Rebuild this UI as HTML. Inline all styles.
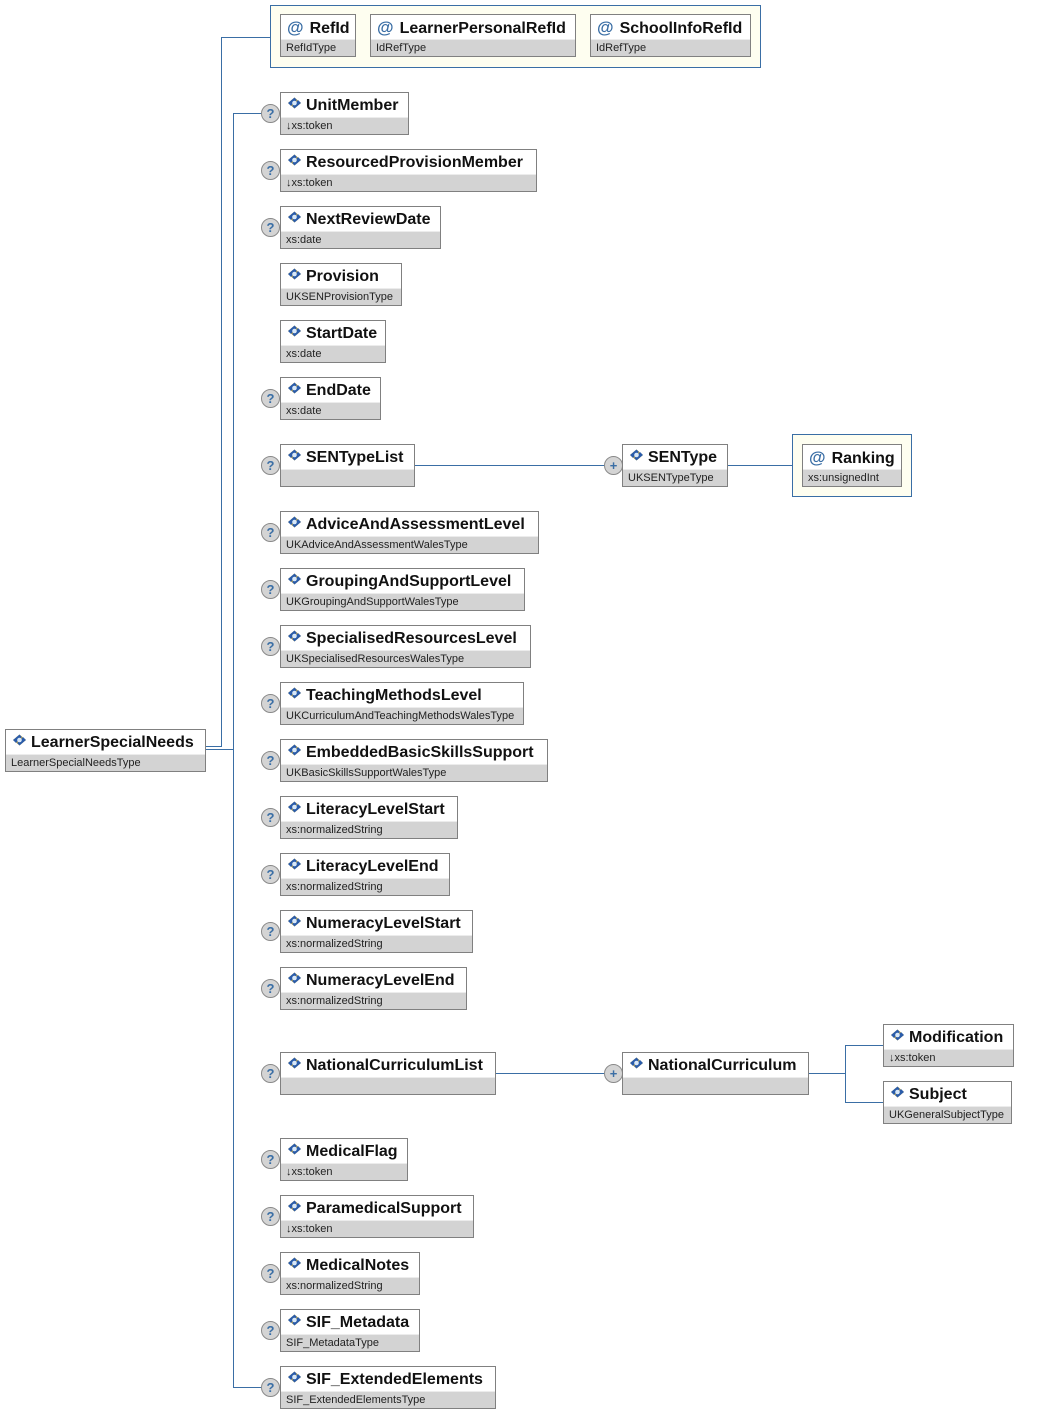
<!DOCTYPE html>
<html><head><meta charset="utf-8"><style>
body{margin:0;width:1054px;height:1413px;background:#fff;position:relative;font-family:"Liberation Sans",Arial,sans-serif;overflow:hidden}
.b{position:absolute;height:41px;border:1px solid #808080;background:#d3d3d3;box-sizing:content-box;overflow:hidden}
.b .n{height:24px;background:#fff;font-weight:bold;font-size:16px;line-height:25px;padding-left:6px;white-space:nowrap;color:#111;border-bottom:1px solid #ececec}
.b .t{font-size:11px;line-height:16px;padding-left:5px;white-space:nowrap;color:#222}
.ic{display:inline-block;width:15px;height:12px;vertical-align:1px;margin-right:4px}
.at{color:#3a6ea5;font-size:17px;margin-right:6px}
.q,.p{position:absolute;width:17px;height:17px;border-radius:50%;background:#d4d4d4;border:1px solid #8a8a8a;color:#3a6ea5;font-weight:bold;font-size:13px;line-height:17px;text-align:center}
.grp{position:absolute;border:1px solid #3a6ea5;background:#fefef0}
</style></head><body>
<svg width="1054" height="1413" style="position:absolute;left:0;top:0">
<defs>
<g id="ico"><path d="M1 6L7.5 0.5L14 6L7.5 11.5Z" fill="#f2c12e"/><path d="M1 6L7.5 0.5L10 3L4 9Z" fill="#2a5caa"/><path d="M14 6L7.5 11.5L5 9L11 3Z" fill="#2a5caa"/><circle cx="7.5" cy="6" r="2.3" fill="#d8e8f8"/></g></defs>
<g stroke="#3a6ea5" stroke-width="1" fill="none" shape-rendering="crispEdges">
<path d="M206 746.5H221.5V37.5H270"/>
<path d="M206 749.5H233.5"/>
<path d="M233.5 113.5V1387.5"/>
<path d="M233 113.5H262M233 1387.5H262"/>
<path d="M415 465.5H605M728 465.5H792"/>
<path d="M496 1073.5H605M809 1073.5H845.5V1045.5H883M845.5 1073.5V1102.5H883"/>
</g></svg>
<div class="grp" style="left:270px;top:5px;width:489px;height:61px"></div>
<div class="grp" style="left:792px;top:434px;width:118px;height:61px"></div>

<div class="b" style="left:280px;top:14px;width:74px"><div class="n"><span class="at">@</span>RefId</div><div class="t">RefIdType</div></div>
<div class="b" style="left:370px;top:14px;width:204px"><div class="n"><span class="at">@</span>LearnerPersonalRefId</div><div class="t">IdRefType</div></div>
<div class="b" style="left:590px;top:14px;width:159px"><div class="n"><span class="at">@</span>SchoolInfoRefId</div><div class="t">IdRefType</div></div>

<div class="b" style="left:5px;top:729px;width:199px"><div class="n"><svg class="ic" viewBox="0 0 15 12"><use href="#ico"/></svg>LearnerSpecialNeeds</div><div class="t">LearnerSpecialNeedsType</div></div>

<div class="q" style="left:261px;top:104px">?</div><div class="b" style="left:280px;top:92px;width:127px"><div class="n"><svg class="ic" viewBox="0 0 15 12"><use href="#ico"/></svg>UnitMember</div><div class="t">↓xs:token</div></div>
<div class="q" style="left:261px;top:161px">?</div><div class="b" style="left:280px;top:149px;width:255px"><div class="n"><svg class="ic" viewBox="0 0 15 12"><use href="#ico"/></svg>ResourcedProvisionMember</div><div class="t">↓xs:token</div></div>
<div class="q" style="left:261px;top:218px">?</div><div class="b" style="left:280px;top:206px;width:159px"><div class="n"><svg class="ic" viewBox="0 0 15 12"><use href="#ico"/></svg>NextReviewDate</div><div class="t">xs:date</div></div>
<div class="b" style="left:280px;top:263px;width:120px"><div class="n"><svg class="ic" viewBox="0 0 15 12"><use href="#ico"/></svg>Provision</div><div class="t">UKSENProvisionType</div></div>
<div class="b" style="left:280px;top:320px;width:104px"><div class="n"><svg class="ic" viewBox="0 0 15 12"><use href="#ico"/></svg>StartDate</div><div class="t">xs:date</div></div>
<div class="q" style="left:261px;top:389px">?</div><div class="b" style="left:280px;top:377px;width:99px"><div class="n"><svg class="ic" viewBox="0 0 15 12"><use href="#ico"/></svg>EndDate</div><div class="t">xs:date</div></div>
<div class="q" style="left:261px;top:456px">?</div><div class="b" style="left:280px;top:444px;width:133px"><div class="n"><svg class="ic" viewBox="0 0 15 12"><use href="#ico"/></svg>SENTypeList</div><div class="t"></div></div>
<div class="p" style="left:604px;top:456px">+</div><div class="b" style="left:622px;top:444px;width:104px"><div class="n"><svg class="ic" viewBox="0 0 15 12"><use href="#ico"/></svg>SENType</div><div class="t">UKSENTypeType</div></div>
<div class="b" style="left:802px;top:444px;width:98px"><div class="n"><span class="at">@</span>Ranking</div><div class="t">xs:unsignedInt</div></div>
<div class="q" style="left:261px;top:523px">?</div><div class="b" style="left:280px;top:511px;width:257px"><div class="n"><svg class="ic" viewBox="0 0 15 12"><use href="#ico"/></svg>AdviceAndAssessmentLevel</div><div class="t">UKAdviceAndAssessmentWalesType</div></div>
<div class="q" style="left:261px;top:580px">?</div><div class="b" style="left:280px;top:568px;width:243px"><div class="n"><svg class="ic" viewBox="0 0 15 12"><use href="#ico"/></svg>GroupingAndSupportLevel</div><div class="t">UKGroupingAndSupportWalesType</div></div>
<div class="q" style="left:261px;top:637px">?</div><div class="b" style="left:280px;top:625px;width:249px"><div class="n"><svg class="ic" viewBox="0 0 15 12"><use href="#ico"/></svg>SpecialisedResourcesLevel</div><div class="t">UKSpecialisedResourcesWalesType</div></div>
<div class="q" style="left:261px;top:694px">?</div><div class="b" style="left:280px;top:682px;width:242px"><div class="n"><svg class="ic" viewBox="0 0 15 12"><use href="#ico"/></svg>TeachingMethodsLevel</div><div class="t">UKCurriculumAndTeachingMethodsWalesType</div></div>
<div class="q" style="left:261px;top:751px">?</div><div class="b" style="left:280px;top:739px;width:266px"><div class="n"><svg class="ic" viewBox="0 0 15 12"><use href="#ico"/></svg>EmbeddedBasicSkillsSupport</div><div class="t">UKBasicSkillsSupportWalesType</div></div>
<div class="q" style="left:261px;top:808px">?</div><div class="b" style="left:280px;top:796px;width:176px"><div class="n"><svg class="ic" viewBox="0 0 15 12"><use href="#ico"/></svg>LiteracyLevelStart</div><div class="t">xs:normalizedString</div></div>
<div class="q" style="left:261px;top:865px">?</div><div class="b" style="left:280px;top:853px;width:168px"><div class="n"><svg class="ic" viewBox="0 0 15 12"><use href="#ico"/></svg>LiteracyLevelEnd</div><div class="t">xs:normalizedString</div></div>
<div class="q" style="left:261px;top:922px">?</div><div class="b" style="left:280px;top:910px;width:191px"><div class="n"><svg class="ic" viewBox="0 0 15 12"><use href="#ico"/></svg>NumeracyLevelStart</div><div class="t">xs:normalizedString</div></div>
<div class="q" style="left:261px;top:979px">?</div><div class="b" style="left:280px;top:967px;width:185px"><div class="n"><svg class="ic" viewBox="0 0 15 12"><use href="#ico"/></svg>NumeracyLevelEnd</div><div class="t">xs:normalizedString</div></div>
<div class="q" style="left:261px;top:1064px">?</div><div class="b" style="left:280px;top:1052px;width:214px"><div class="n"><svg class="ic" viewBox="0 0 15 12"><use href="#ico"/></svg>NationalCurriculumList</div><div class="t"></div></div>
<div class="p" style="left:604px;top:1064px">+</div><div class="b" style="left:622px;top:1052px;width:185px"><div class="n"><svg class="ic" viewBox="0 0 15 12"><use href="#ico"/></svg>NationalCurriculum</div><div class="t"></div></div>
<div class="b" style="left:883px;top:1024px;width:129px"><div class="n"><svg class="ic" viewBox="0 0 15 12"><use href="#ico"/></svg>Modification</div><div class="t">↓xs:token</div></div>
<div class="b" style="left:883px;top:1081px;width:127px"><div class="n"><svg class="ic" viewBox="0 0 15 12"><use href="#ico"/></svg>Subject</div><div class="t">UKGeneralSubjectType</div></div>
<div class="q" style="left:261px;top:1150px">?</div><div class="b" style="left:280px;top:1138px;width:126px"><div class="n"><svg class="ic" viewBox="0 0 15 12"><use href="#ico"/></svg>MedicalFlag</div><div class="t">↓xs:token</div></div>
<div class="q" style="left:261px;top:1207px">?</div><div class="b" style="left:280px;top:1195px;width:192px"><div class="n"><svg class="ic" viewBox="0 0 15 12"><use href="#ico"/></svg>ParamedicalSupport</div><div class="t">↓xs:token</div></div>
<div class="q" style="left:261px;top:1264px">?</div><div class="b" style="left:280px;top:1252px;width:138px"><div class="n"><svg class="ic" viewBox="0 0 15 12"><use href="#ico"/></svg>MedicalNotes</div><div class="t">xs:normalizedString</div></div>
<div class="q" style="left:261px;top:1321px">?</div><div class="b" style="left:280px;top:1309px;width:138px"><div class="n"><svg class="ic" viewBox="0 0 15 12"><use href="#ico"/></svg>SIF_Metadata</div><div class="t">SIF_MetadataType</div></div>
<div class="q" style="left:261px;top:1378px">?</div><div class="b" style="left:280px;top:1366px;width:214px"><div class="n"><svg class="ic" viewBox="0 0 15 12"><use href="#ico"/></svg>SIF_ExtendedElements</div><div class="t">SIF_ExtendedElementsType</div></div>
</body></html>
